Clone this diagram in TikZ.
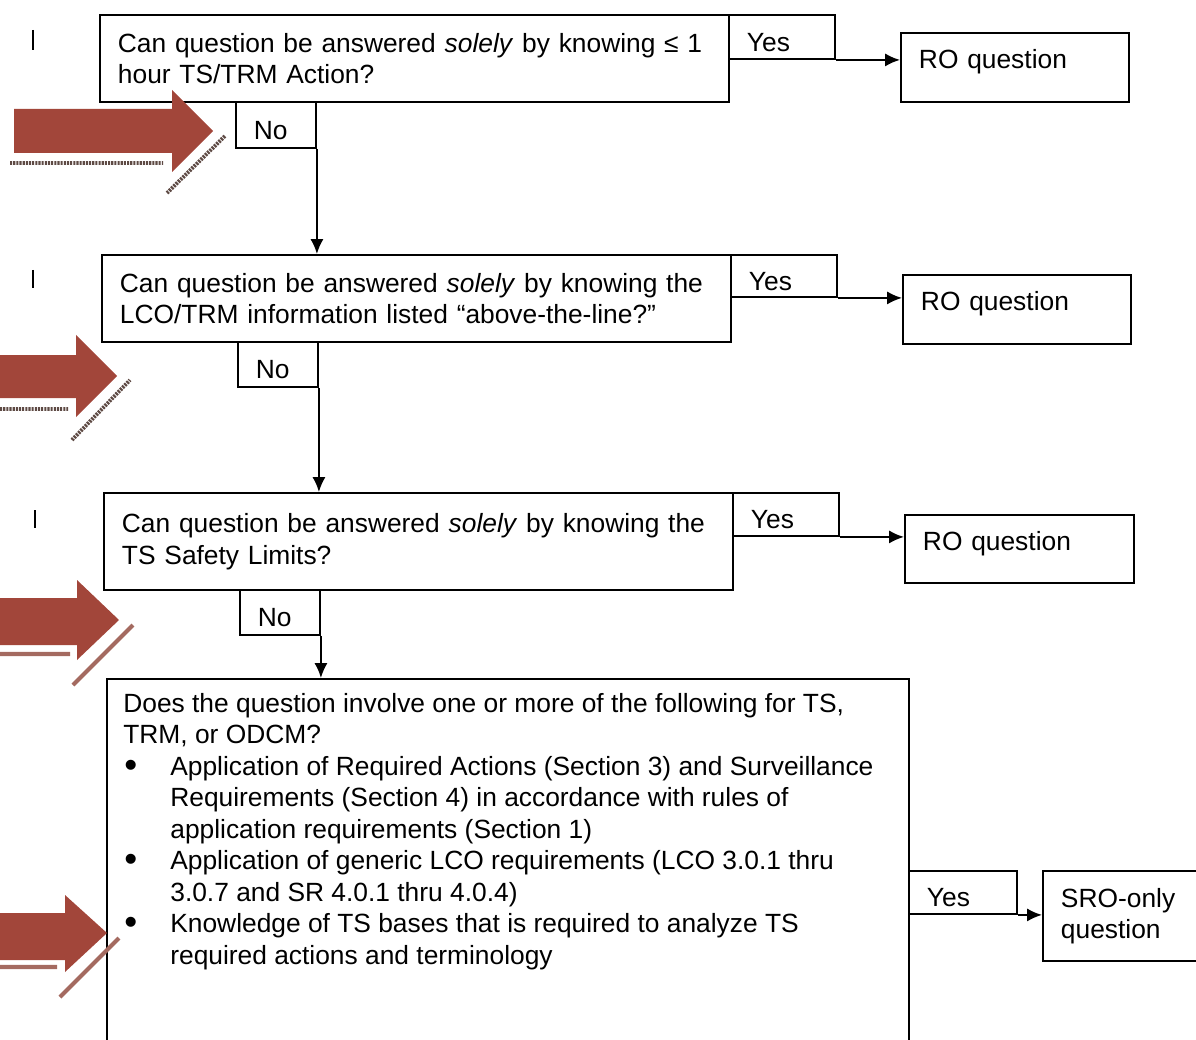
\documentclass[tikz,border=0pt]{standalone}
\usepackage{fontspec}
\setmainfont{Liberation Sans}
\usepackage{tikz}
\usetikzlibrary{arrows.meta}
\usetikzlibrary{positioning}
\newdimen\pxu
\pxu=0.02cm
\definecolor{arrowred}{HTML}{A2463A}
\definecolor{shadowdark}{HTML}{5E4A44}
\definecolor{shadowlight}{HTML}{A46A60}

\begin{document}
\begin{tikzpicture}[x=0.02cm,y=-0.02cm]
	\tikzset{box/.style={draw,line width=1.1pt,anchor=north west,inner xsep=18\pxu,inner ysep=0pt,align=left,font=\fontsize{15pt}{17.9pt}\selectfont},
		smallbox/.style={box,text height=16pt,text depth=0pt},
		robox/.style={box,text height=11pt,text depth=9.5pt},
		flow/.style={line width=1.1pt,-{Latex[length=8.5pt,width=7.5pt]}}}
	\clip (0,0) rectangle (1196,1040);

	% first question
	\node (q1) at (99,14) [box,text width=593\pxu,minimum height=87\pxu] {Can question be answered \textit{solely} by knowing ≤ 1\\hour TS/TRM Action?};
	\node (yes1) at (728,14) [smallbox,text width=70\pxu,minimum height=44\pxu] {Yes};
	\node (ro1) at (900,32) [robox,text width=192\pxu,minimum height=69\pxu] {RO question};
	\node (no1) at (235,101) [smallbox,text width=44\pxu,minimum height=46\pxu] {No};

	% second question
	\node (q2) at (101,254) [box,text width=593\pxu,minimum height=87\pxu] {Can question be answered \textit{solely} by knowing the\\LCO/TRM information listed “above-the-line?”};
	\node (yes2) at (730,254) [smallbox,text width=70\pxu,minimum height=42\pxu] {Yes};
	\node (ro2) at (902,274) [robox,text width=192\pxu,minimum height=69\pxu] {RO question};
	\node (no2) at (237,341) [smallbox,text width=44\pxu,minimum height=45\pxu] {No};

	% third question
	\node (q3) at (103,492) [box,text width=593\pxu,minimum height=97\pxu] {Can question be answered \textit{solely} by knowing the\\TS Safety Limits?};
	\node (yes3) at (732,492) [smallbox,text width=70\pxu,minimum height=43\pxu] {Yes};
	\node (ro3) at (904,514) [robox,text width=193\pxu,minimum height=68\pxu] {RO question};
	\node (no3) at (239,589) [smallbox,text width=44\pxu,minimum height=45\pxu] {No};

	% last question
	\node (q4) at (106,678) [box,minimum width=802\pxu,minimum height=440\pxu] {};
	\node (t4) [below right=15\pxu and 17\pxu of q4.north west,inner sep=0pt,align=left,font=\fontsize{15pt}{17.9pt}\selectfont] {Does the question involve one or more of the following for TS,\\
		TRM, or ODCM?\\
		\makebox[47\pxu][l]{\hspace{1\pxu}\raisebox{-1.2pt}{\fontsize{21pt}{21pt}\selectfont•}}Application of Required Actions (Section 3) and Surveillance\\
		\hspace*{47\pxu}Requirements (Section 4) in accordance with rules of\\
		\hspace*{47\pxu}application requirements (Section 1)\\
		\makebox[47\pxu][l]{\hspace{1\pxu}\raisebox{-1.2pt}{\fontsize{21pt}{21pt}\selectfont•}}Application of generic LCO requirements (LCO 3.0.1 thru\\
		\hspace*{47\pxu}3.0.7 and SR 4.0.1 thru 4.0.4)\\
		\makebox[47\pxu][l]{\hspace{1\pxu}\raisebox{-1.2pt}{\fontsize{21pt}{21pt}\selectfont•}}Knowledge of TS bases that is required to analyze TS\\
		\hspace*{47\pxu}required actions and terminology};
	\node (yes4) at (908,870) [smallbox,text width=72\pxu,minimum height=43\pxu] {Yes};
	\node (sro4) at (1042,870) [box,text width=224\pxu,minimum height=90\pxu] {SRO-only\\question};

	%Flechas
	\draw[flow] (yes1.south east) -- (yes1.south east -| ro1.west);
	\draw[flow] (yes2.south east) -- (yes2.south east -| ro2.west);
	\draw[flow] (yes3.south east) -- (yes3.south east -| ro3.west);
	\draw[flow] (yes4.south east) -- (yes4.south east -| sro4.west);
	\draw[flow] (no1.south east) -- (no1.south east |- q2.north);
	\draw[flow] (no2.south east) -- (no2.south east |- q3.north);
	\draw[flow] (no3.south east) -- (no3.south east |- q4.north);

	% change bars
	\draw[line width=1.1pt] (33,30) -- (33,50);
	\draw[line width=1.1pt] (33,270) -- (33,288);
	\draw[line width=1.1pt] (35,510) -- (35,528);

	% red markers
	\fill[arrowred] (14,109) -- (172,109) -- (172,90) -- (213,131) -- (172,172) -- (172,153) -- (14,153) -- cycle;
	\draw[shadowdark,line width=2.2pt,dash pattern=on 1.2pt off 0.6pt] (10,163) -- (163,163) (167,193) -- (225,136);
	\fill[arrowred] (0,355) -- (76,355) -- (76,335) -- (117,376) -- (76,417) -- (76,398) -- (0,398) -- cycle;
	\draw[shadowdark,line width=2.2pt,dash pattern=on 1.2pt off 0.6pt] (0,409) -- (68,409) (72,440) -- (130,380);
	\fill[arrowred] (0,598) -- (77,598) -- (77,580) -- (119,620) -- (77,660) -- (77,645) -- (0,645) -- cycle;
	\draw[shadowlight,line width=2.4pt] (0,654) -- (70,654) (73,685) -- (133,625);
	\fill[arrowred] (0,913) -- (65,913) -- (65,895) -- (107,933) -- (65,972) -- (65,960) -- (0,960) -- cycle;
	\draw[shadowlight,line width=2.4pt] (0,967) -- (57,967) (60,997) -- (119,938);
\end{tikzpicture}
\end{document}
